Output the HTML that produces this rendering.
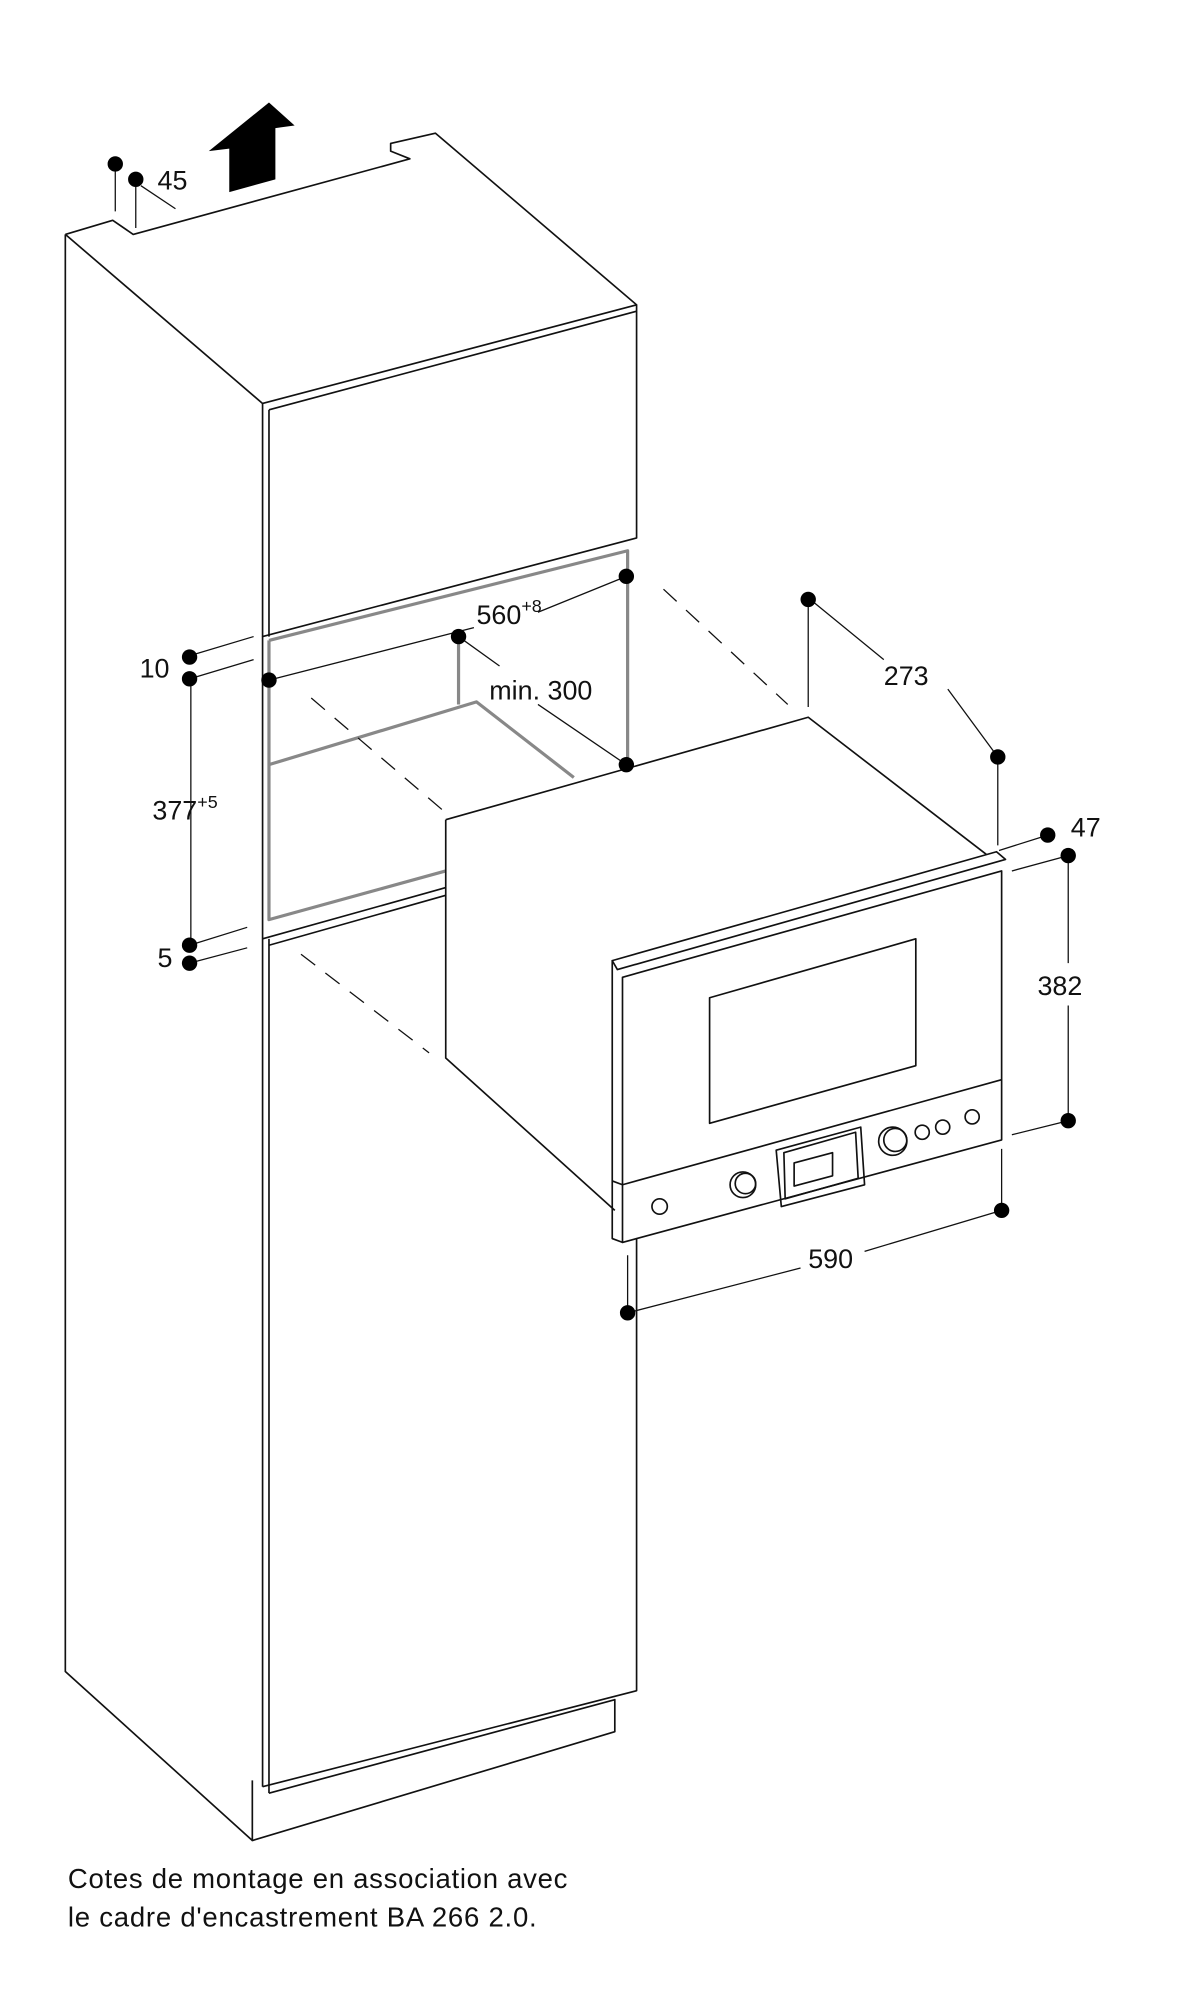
<!DOCTYPE html>
<html><head><meta charset="utf-8"><style>
html,body{margin:0;padding:0;background:#fff;}
svg{display:block;}
text{font-family:"Liberation Sans",sans-serif;fill:#111;}
</style></head><body>
<svg width="1204" height="2000" viewBox="0 0 940 1561.5" preserveAspectRatio="none" xmlns="http://www.w3.org/2000/svg">
<g fill="none" stroke="#111" stroke-width="1.3" stroke-linejoin="round">
<!-- cabinet -->
<path d="M51,183 L88,172 L104,183 L320,124 L305,118 L305,112 L340,104 L497,238"/>
<path d="M51,183 L51,1305 L197,1437"/>
<path d="M51,183 L205,315"/>
<path d="M205,315 L497,238 L497,420 L205,497 Z"/>
<path d="M210,320 L497,243"/>
<path d="M210,320 L210,497"/>
<path d="M205,497 L205,1395"/>
<path d="M210,733 L210,1400"/>
<path d="M205,733 L348,693"/>
<path d="M210,738 L348,699"/>
<path d="M497,600 L497,1320 L205,1395"/>
<path d="M210,1400 L480,1327 L480,1352 L197,1437 L197,1390"/>
<!-- niche gray -->
<path d="M210,500 L490,430 L490,597" stroke="#888" stroke-width="2.5"/>
<path d="M210,500 L210,718 L348,680" stroke="#888" stroke-width="2.5"/>
<path d="M210,597 L372,548 L448,607" stroke="#888" stroke-width="2.5"/>
<path d="M358,497 L358,550" stroke="#888" stroke-width="2.5"/>
<!-- dashed -->
<path d="M518,460 L615,550" stroke-dasharray="14,10" stroke-width="1"/>
<path d="M243,545 L345,632" stroke-dasharray="14,10" stroke-width="1"/>
<path d="M235,745 L335,822" stroke-dasharray="14,10" stroke-width="1"/>
<!-- oven white mask -->
<path d="M348,640 L631,560 L780,665 L785,671 L782,890 L486,970 L478,967 L478,945 L348,826 Z" fill="#fff" stroke="none"/>
<!-- oven body -->
<path d="M348,640 L631,560 L770,667"/>
<path d="M348,640 L348,826 L480,945"/>
<!-- front trim -->
<path d="M478,750 L778,665 L785,671 L482,757 Z"/>
<path d="M478,750 L478,967 L486,970"/>
<path d="M486,763 L782,680 L782,890 L486,970 Z"/>
<path d="M554,779 L715,733 L715,832 L554,877 Z"/>
<path d="M486,925 L782,843"/>
<path d="M478,922 L486,925"/>
<path d="M606,898 L672,880 L675,925 L610,942 Z"/>
<path d="M612,900 L668,884 L670,920 L613,936 Z"/>
<path d="M620,908 L650,900 L650,918 L620,926 Z"/>
<circle cx="515" cy="942" r="6"/>
<circle cx="580" cy="925" r="10"/>
<circle cx="582" cy="924" r="8"/>
<circle cx="697" cy="891" r="11"/>
<circle cx="699" cy="890" r="9"/>
<circle cx="720" cy="884" r="5.5"/>
<circle cx="736" cy="880" r="5.5"/>
<circle cx="759" cy="872" r="5.5"/>
<!-- dimension lines -->
<g stroke-width="1">
<path d="M90,128 L90,165 M106,140 L106,178 M110,145 L137,163"/>
<path d="M148,512 L198,497 M148,530 L198,515 M149,530 L149,738 M148,738 L193,724 M148,752 L193,740"/>
<path d="M210,531 L370,490 M420,478 L489,450"/>
<path d="M358,497 L390,520 M420,550 L489,597"/>
<path d="M631,468 L631,552 M635,470 L690,515 M740,538 L779,591 M779,595 L779,660"/>
<path d="M780,664 L818,652 M790,680 L834,668 M834,668 L834,752 M834,785 L834,875 M790,886 L834,875"/>
<path d="M782,897 L782,945 M490,980 L490,1025 M490,1025 L625,990 M675,977 L782,945"/>
</g>
</g>
<g fill="#000">
<circle cx="90" cy="128" r="6"/><circle cx="106" cy="140" r="6"/>
<circle cx="148" cy="513" r="6"/><circle cx="148" cy="530" r="6"/>
<circle cx="148" cy="738" r="6"/><circle cx="148" cy="752" r="6"/>
<circle cx="210" cy="531" r="6"/><circle cx="489" cy="450" r="6"/>
<circle cx="358" cy="497" r="6"/><circle cx="489" cy="597" r="6"/>
<circle cx="631" cy="468" r="6"/><circle cx="779" cy="591" r="6"/>
<circle cx="818" cy="652" r="6"/><circle cx="834" cy="668" r="6"/>
<circle cx="834" cy="875" r="6"/><circle cx="782" cy="945" r="6"/>
<circle cx="490" cy="1025" r="6"/>
<path d="M179,150 L179,116 L163,118 L210,80 L230,98 L215,100 L215,140 Z"/>
</g>
<text x="123" y="148" font-size="21">45</text>
<text x="109" y="529" font-size="21">10</text>
<text x="119" y="640" font-size="21">377<tspan font-size="14" dy="-9">+5</tspan></text>
<text x="123" y="755" font-size="21">5</text>
<text x="372" y="487" font-size="21">560<tspan font-size="14" dy="-9">+8</tspan></text>
<text x="382" y="546" font-size="21">min. 300</text>
<text x="690" y="535" font-size="21">273</text>
<text x="836" y="653" font-size="21">47</text>
<text x="810" y="777" font-size="21">382</text>
<text x="631" y="990" font-size="21">590</text>
<text x="53" y="1474" font-size="21.5" textLength="390">Cotes de montage en association avec</text>
<text x="53" y="1504" font-size="21.5" textLength="366">le cadre d'encastrement BA 266 2.0.</text>
</svg>
</body></html>
